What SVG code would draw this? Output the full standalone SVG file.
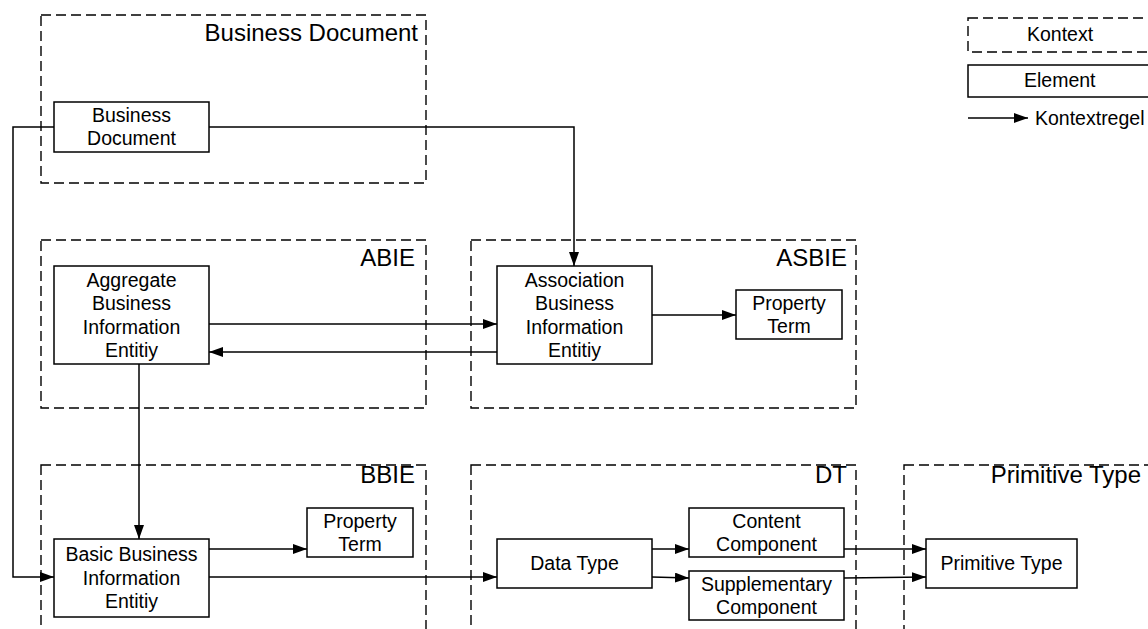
<svg xmlns="http://www.w3.org/2000/svg" width="1148" height="629" viewBox="0 0 1148 629">
<style>
.ctx{fill:none;stroke:#000;stroke-width:1.4;stroke-dasharray:10 5}
.el{fill:#fff;stroke:#000;stroke-width:1.5}
.con{fill:none;stroke:#000;stroke-width:1.5}
text{font-family:"Liberation Sans",Arial,sans-serif;fill:#000}
.t{font-size:19.5px;text-anchor:middle}
.h{font-size:24px;text-anchor:end}
.l{font-size:19.5px}
</style>
<defs>
<marker id="ah" markerUnits="userSpaceOnUse" markerWidth="14" markerHeight="10" refX="14" refY="5" orient="auto">
<path d="M0,0 L14,5 L0,10 z" fill="#000"/>
</marker>
</defs>
<rect width="1148" height="629" fill="#fff"/>
<g id="contexts">
<g id="ctx-bd"><rect class="ctx" x="41" y="15" width="385" height="168"/><text class="h" x="418" y="41">Business Document</text></g>
<g id="ctx-abie"><rect class="ctx" x="41" y="240" width="385" height="168"/><text class="h" x="415" y="266">ABIE</text></g>
<g id="ctx-asbie"><rect class="ctx" x="471" y="240" width="385" height="168"/><text class="h" x="847" y="266">ASBIE</text></g>
<g id="ctx-bbie"><rect class="ctx" x="41" y="465" width="385" height="190"/><text class="h" x="415" y="483">BBIE</text></g>
<g id="ctx-dt"><rect class="ctx" x="471" y="465" width="385" height="190"/><text class="h" x="847" y="483">DT</text></g>
<g id="ctx-prim"><rect class="ctx" x="904" y="465" width="300" height="190"/><text class="h" x="1141" y="483">Primitive Type</text></g>
</g>
<g id="connectors">
<path class="con" d="M54,127 H13 V577 H54" marker-end="url(#ah)"/>
<path class="con" d="M209,127 H574 V266" marker-end="url(#ah)"/>
<path class="con" d="M209,324 H497" marker-end="url(#ah)"/>
<path class="con" d="M497,352 H209" marker-end="url(#ah)"/>
<path class="con" d="M652,315 H736" marker-end="url(#ah)"/>
<path class="con" d="M139,364 V539" marker-end="url(#ah)"/>
<path class="con" d="M209,549 H307" marker-end="url(#ah)"/>
<path class="con" d="M209,577 H497" marker-end="url(#ah)"/>
<path class="con" d="M652,549 H689" marker-end="url(#ah)"/>
<path class="con" d="M652,577 L689,578" marker-end="url(#ah)"/>
<path class="con" d="M844,549 H926" marker-end="url(#ah)"/>
<path class="con" d="M844,578 L926,577" marker-end="url(#ah)"/>
</g>
<g id="n-bd"><rect class="el" x="54" y="102" width="155" height="50"/><text class="t" x="131.5" y="121.5">Business</text><text class="t" x="131.5" y="145">Document</text></g>
<g id="n-abie"><rect class="el" x="54" y="266" width="155" height="98"/><text class="t" x="131.5" y="286.5">Aggregate</text><text class="t" x="131.5" y="310">Business</text><text class="t" x="131.5" y="333.5">Information</text><text class="t" x="131.5" y="357">Entitiy</text></g>
<g id="n-asbie"><rect class="el" x="497" y="266" width="155" height="98"/><text class="t" x="574.5" y="286.5">Association</text><text class="t" x="574.5" y="310">Business</text><text class="t" x="574.5" y="333.5">Information</text><text class="t" x="574.5" y="357">Entitiy</text></g>
<g id="n-asbie-pt"><rect class="el" x="736" y="290" width="106" height="49"/><text class="t" x="789" y="309.5">Property</text><text class="t" x="789" y="333">Term</text></g>
<g id="n-bbie"><rect class="el" x="54" y="539" width="155" height="78"/><text class="t" x="131.5" y="561">Basic Business</text><text class="t" x="131.5" y="584.5">Information</text><text class="t" x="131.5" y="608">Entitiy</text></g>
<g id="n-bbie-pt"><rect class="el" x="307" y="508" width="106" height="49"/><text class="t" x="360" y="527.5">Property</text><text class="t" x="360" y="551">Term</text></g>
<g id="n-dt"><rect class="el" x="497" y="539" width="155" height="49"/><text class="t" x="574.5" y="570">Data Type</text></g>
<g id="n-cc"><rect class="el" x="689" y="508" width="155" height="49"/><text class="t" x="766.5" y="527.5">Content</text><text class="t" x="766.5" y="551">Component</text></g>
<g id="n-sc"><rect class="el" x="689" y="571" width="155" height="49"/><text class="t" x="766.5" y="590.5">Supplementary</text><text class="t" x="766.5" y="614">Component</text></g>
<g id="n-prim"><rect class="el" x="926" y="539" width="151" height="49"/><text class="t" x="1001.5" y="570">Primitive Type</text></g>
<g id="legend">
<g id="lg-ctx"><rect class="ctx" x="968" y="18" width="200" height="34"/><text class="l" x="1027" y="41">Kontext</text></g>
<g id="lg-el"><rect class="el" x="968" y="65" width="200" height="32"/><text class="l" x="1024" y="87">Element</text></g>
<g id="lg-rule"><path class="con" d="M968,118 H1028" marker-end="url(#ah)"/><text class="l" x="1035" y="125">Kontextregel</text></g>
</g>
</svg>
